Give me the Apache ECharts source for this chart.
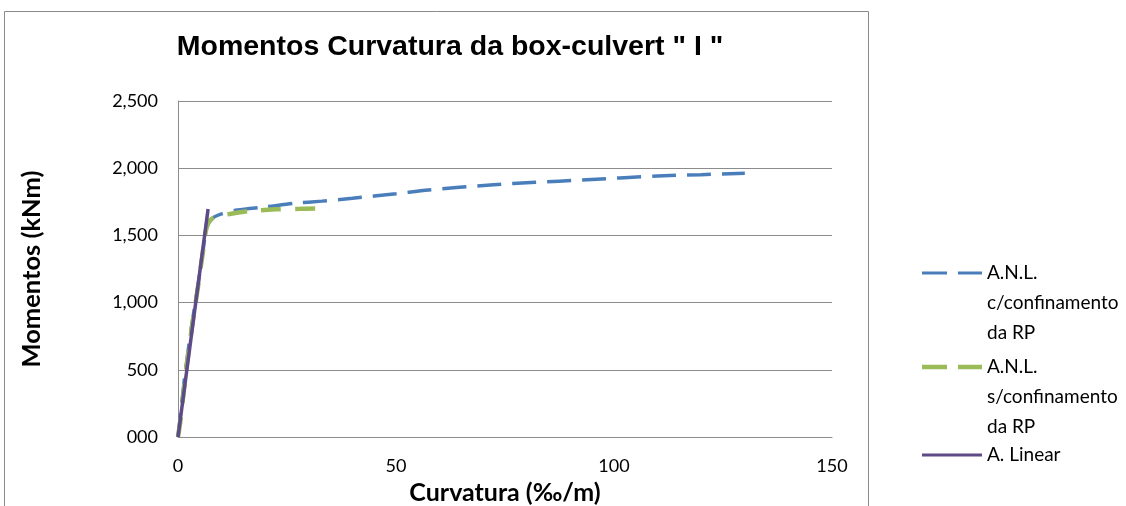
<!DOCTYPE html>
<html>
<head>
<meta charset="utf-8">
<script src="https://cdn.jsdelivr.net/npm/echarts@6/dist/echarts.min.js"></script>
<style>
  html, body { margin: 0; padding: 0; background: #fff; }
  #chart { width: 1126px; height: 506px; }
</style>
</head>
<body>
<div id="chart"></div>
<script>
// Moment–curvature curves, curvature in ‰/m, moment in kNm
const comConfinamento = [
  [0, 0], [0.5, 150], [1.5, 440], [3.0, 800], [4.5, 1110], [5.8, 1400],
  [6.6, 1560], [7.9, 1627], [10, 1660], [13.6, 1689], [20, 1712],
  [26.8, 1739], [33, 1755], [40, 1776], [50, 1810], [57.5, 1838],
  [71.6, 1875], [82, 1895], [92.7, 1912], [110, 1942], [120, 1952], [130, 1962]
];
const semConfinamento = [
  [0, 0], [0.6, 130], [1.8, 480], [3.2, 820], [4.6, 1120], [5.6, 1350],
  [6.5, 1550], [7.4, 1615], [9, 1640], [11.8, 1659], [16, 1680],
  [22.4, 1694], [28, 1698], [32, 1701], [34.7, 1701]
];
const analiseLinear = [
  [0, 0], [6.9, 1696]
];
const seriesNames = [
  'A.N.L.\nc/confinamento\nda RP',
  'A.N.L.\ns/confinamento\nda RP',
  'A. Linear'
];
const yTickLabels = ['000', '500', '1,000', '1,500', '2,000', '2,500'];

// Legend keys for the three-line entries: a 60x90 box so the key sits
// beside the first text line. Corner specks keep the box size.
const keyBox = 'M0,0h0.1v0.1h-0.1z M59.9,89.9h0.1v0.1h-0.1z ';
const keyBlue = 'path://' + keyBox + 'M0,13.5h25v3h-25z M36,13.5h24v3h-24z';
const keyGreen = 'path://' + keyBox + 'M0,12.8h25v4.4h-25z M36,12.8h24v4.4h-24z';
const keyPurple = 'path://M0,0h60v3h-60z';

const chart = echarts.init(document.getElementById('chart'), null, { renderer: 'canvas' });

const gridColor = '#8c8c8c';
const bodyFont = 'Lato, "Open Sans", sans-serif';
const colors = ['#4a7ebb', '#9bbb59', '#5e4a86'];
const legendText = {
  fontFamily: bodyFont,
  fontSize: 19,
  lineHeight: 30,
  color: '#000'
};

chart.setOption({
  animation: false,
  backgroundColor: '#ffffff',
  title: {
    text: 'Momentos Curvatura da box-culvert " I "',
    left: 445,
    top: 28,
    textAlign: 'center',
    textStyle: {
      fontFamily: '"Liberation Sans", Arial, sans-serif',
      fontWeight: 'bold',
      fontSize: 28.5,
      color: '#000'
    }
  },
  graphic: [{
    type: 'rect',
    shape: { x: 4.5, y: 11.5, width: 864, height: 520 },
    style: { fill: 'none', stroke: '#8a8a8a', lineWidth: 1 },
    silent: true,
    z: -1
  }],
  legend: [
    {
      orient: 'vertical',
      left: 922,
      top: 258,
      padding: 0,
      itemWidth: 60,
      itemHeight: 90,
      itemGap: 4,
      textStyle: legendText,
      data: [
        { name: seriesNames[0], icon: keyBlue, itemStyle: { color: colors[0] } },
        { name: seriesNames[1], icon: keyGreen, itemStyle: { color: colors[1] } }
      ]
    },
    {
      orient: 'vertical',
      left: 922,
      top: 440,
      padding: 0,
      itemWidth: 60,
      itemHeight: 3,
      textStyle: legendText,
      data: [
        { name: seriesNames[2], icon: keyPurple, itemStyle: { color: colors[2] } }
      ]
    }
  ],
  grid: {
    left: 178,
    right: 294,
    top: 101,
    bottom: 69,
    containLabel: false,
    outerBoundsMode: 'none'
  },
  xAxis: {
    type: 'value',
    min: 0,
    max: 150,
    interval: 50,
    name: 'Curvatura (‰/m)',
    nameLocation: 'middle',
    nameGap: 43,
    nameTextStyle: {
      fontFamily: bodyFont,
      fontWeight: 'bold',
      fontSize: 25,
      color: '#000'
    },
    axisLine: { show: true, lineStyle: { color: gridColor, width: 1 } },
    axisTick: { show: false },
    axisLabel: {
      margin: 20,
      fontFamily: bodyFont,
      fontSize: 18,
      color: '#000'
    },
    splitLine: { show: false }
  },
  yAxis: {
    type: 'value',
    min: 0,
    max: 2500,
    interval: 500,
    name: 'Momentos (kNm)',
    nameLocation: 'middle',
    nameGap: 133,
    nameTextStyle: {
      fontFamily: bodyFont,
      fontWeight: 'bold',
      fontSize: 25.5,
      color: '#000'
    },
    axisLine: { show: true, lineStyle: { color: gridColor, width: 1 } },
    axisTick: { show: false },
    axisLabel: {
      margin: 20,
      fontFamily: bodyFont,
      fontSize: 18,
      color: '#000',
      formatter: (v) => yTickLabels[Math.round(v / 500)]
    },
    splitLine: { show: true, lineStyle: { color: gridColor, width: 1 } }
  },
  series: [
    {
      name: seriesNames[0],
      type: 'line',
      data: comConfinamento,
      symbol: 'none',
      smooth: 0.3,
      lineStyle: { color: colors[0], width: 3.5, type: [24, 11] },
      itemStyle: { color: colors[0] },
      z: 2
    },
    {
      name: seriesNames[1],
      type: 'line',
      data: semConfinamento,
      symbol: 'none',
      smooth: 0.3,
      lineStyle: { color: colors[1], width: 4.5, type: [20, 14] },
      itemStyle: { color: colors[1] },
      z: 3
    },
    {
      name: seriesNames[2],
      type: 'line',
      data: analiseLinear,
      symbol: 'none',
      lineStyle: { color: colors[2], width: 3.5 },
      itemStyle: { color: colors[2] },
      z: 4
    }
  ]
});
</script>
</body>
</html>
